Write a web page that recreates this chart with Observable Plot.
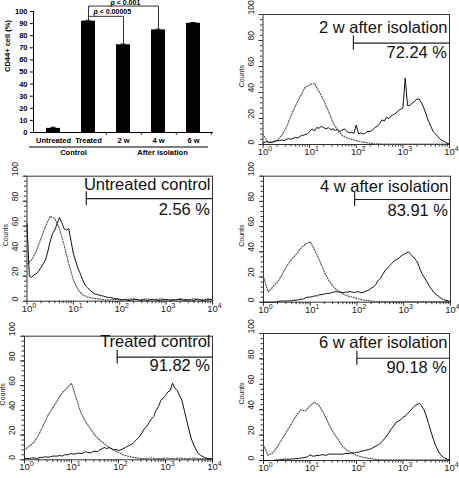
<!DOCTYPE html>
<html>
<head>
<meta charset="utf-8">
<script src="https://cdn.jsdelivr.net/npm/d3@7"></script>
<script src="https://cdn.jsdelivr.net/npm/@observablehq/plot@0.6"></script>
<style>
  html, body { margin: 0; padding: 0; background: #fff; }
  #fig { position: relative; width: 459px; height: 478px; overflow: hidden; }
  #fig > div { position: absolute; }
  #fig svg { display: block; overflow: hidden; }
</style>
</head>
<body>
<div id="fig"></div>
<script>
// ---- CD44+ summary bar chart ----
const categories = ["Untreated", "Treated", "2 w", "4 w", "6 w"];
const cd44Percent = [3.4, 92.0, 72.5, 84.8, 90.3];
const cd44Error = [0.9, 0.7, 0.6, 0.6, 0.6];
const barTicks = [0, 10, 20, 30, 40, 50, 60, 70, 80, 90, 100];
const groupLabels = ["Control", "After isolation"];
const comparisons = [
  { from: "Treated", to: "2 w", level: 96, label: "p < 0.00005" },
  { from: "Treated", to: "4 w", level: 104.5, label: "p < 0.001" }
];

// ---- flow cytometry histograms (counts per log10 channel) ----
// solid traces: log10 fluorescence 0 → 4 in steps of 0.05; dotted isotype traces: steps of 0.1
const solidStep = 0.05;
const dottedStep = 0.1;
const decadeExponents = [0, 1, 2, 3, 4];
const countTicks = [0, 20, 40, 60, 80, 100];

const untreatedSolid = [
  62, 20, 19, 21, 22, 24, 27, 30, 33, 40,
  48, 54, 57, 62, 67, 63, 58, 57, 58, 48,
  38, 32, 26, 22, 17, 13, 11, 9, 7.5, 6,
  5.5, 5, 4.5, 4, 3.5, 3, 3, 2.5, 2, 2,
  1.5, 1, 1.5, 1, 0.5, 1, 1, 1.5, 1, 0.5,
  1, 1, 0.5, 1, 1.5, 1, 1, 0.5, 1, 1,
  1.5, 1, 0.5, 1, 1, 1, 1.5, 1, 0.5, 1,
  1, 1, 0.5, 1.5, 1, 1, 0.5, 1, 1, 1.5,
  1
];
const untreatedIsotype = [
  30, 33, 40, 50, 60, 68, 66, 58, 45, 30,
  17, 9, 5, 3.5, 2.5, 2, 1.5, 1, 1, 1.5,
  1, 1, 1.5, 2, 1, 1.5, 2, 1, 1.5, 2,
  1, 1.5, 1, 2, 1.5, 1, 2, 1.5, 1, 2,
  1
];
const treatedSolid = [
  1, 1, 1, 1.5, 1.5, 1, 1.5, 2, 2, 2.5,
  2, 2.5, 3, 3, 3, 3.5, 3, 4, 4, 4.5,
  5, 4.5, 5, 5.5, 5, 5.5, 6.5, 6, 5.5, 6.5,
  7, 6.5, 8, 9, 10, 9, 10, 9, 8, 8.5,
  7.5, 8, 9, 10, 11, 12, 13, 15, 17, 19,
  22, 25, 27, 30, 33, 35, 40, 43, 48, 50,
  52, 55, 56, 62, 58, 56, 52, 48, 40, 32,
  24, 17, 12, 8, 5, 3.5, 2.5, 1.5, 1, 1,
  0.5
];
const treatedIsotype = [
  8, 11, 14, 20, 28, 36, 42, 48, 54, 58,
  62, 50, 38, 31, 25, 20, 16, 13, 10, 8,
  6, 4, 3, 2, 1.5, 1, 1, 1.5, 1, 1,
  1.5, 1, 1, 1.5, 1, 1, 1.5, 1, 1, 1,
  1
];
const week2Solid = [
  1, 2, 2, 1.5, 2, 2.5, 3, 3, 3.5, 3,
  4, 4.5, 4, 5, 5.5, 5, 6.5, 7, 7.5, 8,
  10, 12, 10.5, 13, 12.5, 14, 13, 12, 13, 11.5,
  12, 11, 11.5, 10, 11, 12, 10, 9, 9.5, 8.5,
  15, 8, 9, 8, 9, 10, 10, 11, 13, 14,
  16, 19, 18, 21, 20, 22, 23, 24, 26, 27,
  28, 51, 30, 30, 32, 33, 35, 35, 32, 28,
  23, 18, 14, 10, 8, 6, 4, 3, 2, 1,
  0.5
];
const week2Isotype = [
  8, 2, 1.5, 3, 7, 13, 22, 30, 37, 44,
  46, 47, 41, 34, 26, 17, 11, 7, 5, 4,
  3, 2, 1.5, 1, 0.5, 0.5, 0.3, 0.3, 0.3, 0.3,
  0.3, 0.3, 0.3, 0.3, 0.3, 0.3, 0.3, 0.3, 0.3, 0.3,
  1
];
const week4Solid = [
  0, 0, 0, 0, 0, 0, 0.5, 0.8, 1, 1,
  1, 1, 1.2, 1.5, 1.5, 2, 2.5, 2.5, 3.5, 4,
  4, 4.5, 5, 5, 6, 6, 6.5, 7, 7, 7.5,
  8, 8.5, 8, 8, 7.5, 8, 8, 8.5, 8, 7.5,
  8.5, 8, 7.5, 8, 9, 9.5, 11, 12, 14, 17,
  19, 22, 25, 27, 29, 31, 33, 34, 35, 37,
  38, 39, 40, 38, 36, 34, 31, 26, 22, 19,
  16, 12.5, 10, 7.5, 6, 4.5, 3, 2, 1.5, 1,
  0.5
];
const week4Isotype = [
  20, 8, 12, 16, 22, 29, 34, 38, 43, 46,
  48, 41, 33, 24, 17, 12, 9, 6.5, 5, 4,
  3, 2, 1.3, 1, 0.5, 0.5, 0.5, 0.5, 0.5, 0.5,
  0.5, 0.5, 0.5, 0.5, 0.5, 0.5, 0.5, 0.5, 0.5, 0.5,
  0.5
];
const week6Solid = [
  0, 0, 0, 0, 0, 0.3, 0.5, 0.5, 1, 1,
  1, 1, 1.2, 1.2, 1.5, 1.5, 2, 2, 2.5, 3,
  4.5, 3.5, 3.5, 4, 4, 4.5, 4.5, 4, 5, 5,
  5, 5, 5, 5, 5, 5.5, 5.5, 5.5, 6, 6,
  6.5, 6.5, 7.5, 7.5, 8, 8.5, 9, 10, 11, 12,
  13, 15, 17, 19.5, 22, 25, 27, 30, 31, 32,
  34, 35, 37, 39, 41, 43, 44, 45, 43, 40,
  35, 29, 23, 17, 12, 8, 5, 3, 2, 1,
  0.5
];
const week6Isotype = [
  12, 4, 6, 11, 17, 23, 29, 35, 40, 39,
  43, 46, 43, 37, 29, 22, 17, 11, 8, 6,
  4, 3, 2, 1.5, 1, 0.5, 0.5, 0.5, 0.5, 0.5,
  0.5, 0.5, 0.5, 0.5, 0.5, 0.5, 0.5, 0.5, 0.5, 0.5,
  0.5
];

const panelTitles = ["2 w after isolation", "Untreated control", "4 w after isolation", "Treated control", "6 w after isolation"];
const positivePercent = [72.24, 2.56, 83.91, 91.82, 90.18];
const gateStart = [87, 19, 89, 94, 102];
const gateCount = [78, 82, 81.5, 83, 80.5];

// ---- page layout (pixels) ----
const font = '"Liberation Sans", Arial, Helvetica, sans-serif';
const panelBoxes = [
  { left: 230, top: 0,   w: 229, h: 165, ml: 32.5, mr: 10, mt: 14,   mb: 21,   titleDy: 18.5, pctDy: 43.5 },
  { left: 0,   top: 160, w: 230, h: 160, ml: 26.5, mr: 18, mt: 15.7, mb: 19.3, titleDy: 13.6, pctDy: 38.6 },
  { left: 230, top: 160, w: 229, h: 160, ml: 33,   mr: 9,  mt: 15.7, mb: 18.3, titleDy: 15.3, pctDy: 39.3 },
  { left: 0,   top: 318, w: 230, h: 160, ml: 24,   mr: 18, mt: 17.7, mb: 18.7, titleDy: 10.3, pctDy: 35 },
  { left: 230, top: 318, w: 229, h: 160, ml: 33,   mr: 10, mt: 15,   mb: 18,   titleDy: 14.3, pctDy: 39.3 }
];
const solidSeries = [week2Solid, untreatedSolid, week4Solid, treatedSolid, week6Solid];
const isotypeSeries = [week2Isotype, untreatedIsotype, week4Isotype, treatedIsotype, week6Isotype];

const fig = document.getElementById("fig");
function place(node, box) {
  const holder = document.createElement("div");
  holder.style.left = box.left + "px";
  holder.style.top = box.top + "px";
  holder.style.width = box.w + "px";
  holder.style.height = box.h + "px";
  holder.appendChild(node);
  fig.appendChild(holder);
}

// ---- bar chart ----
const barRows = categories.map((c, i) => ({ category: c, value: cd44Percent[i], error: cd44Error[i] }));
const topOf = c => { const r = barRows.find(d => d.category === c); return r.value + r.error + 0.4; };
const bracketPaths = comparisons.map(b => [
  { category: b.from, y: topOf(b.from) },
  { category: b.from, y: b.level },
  { category: b.to, y: b.level },
  { category: b.to, y: topOf(b.to) }
]);

const bar = Plot.plot({
  width: 230, height: 160,
  marginLeft: 33, marginRight: 17, marginTop: 11, marginBottom: 28,
  x: { domain: categories, paddingInner: 0.6, paddingOuter: 0.33 },
  y: { domain: [0, 100] },
  style: { fontFamily: font, fontWeight: "bold", fontSize: "7.5px", color: "#000", background: "none" },
  marks: [
    Plot.barY(barRows, { x: "category", y: "value", fill: "#000" }),
    Plot.ruleX(barRows, { x: "category", y1: "value", y2: d => d.value + d.error, stroke: "#000" }),
    Plot.tickY(barRows, { x: "category", y: d => d.value + d.error, insetLeft: 4.5, insetRight: 4.5, stroke: "#000" }),
    Plot.axisY({ ticks: barTicks, tickSize: 3, tickPadding: 3, label: null, stroke: "#000" }),
    Plot.axisX({ tickSize: 0, tickPadding: 5, label: null }),
    Plot.frame({ anchor: "left", stroke: "#000" }),
    Plot.ruleY([0], { stroke: "#000" }),
    Plot.ruleX(categories.slice(1), { x: d => d, y1: 0, y2: -2.2, dx: 17.8, stroke: "#000" }),
    Plot.ruleY([0], { x1: () => categories[0], x2: () => categories[1], dy: 14.5, insetLeft: -17, insetRight: -14, stroke: "#000" }),
    Plot.ruleY([0], { x1: () => categories[2], x2: () => categories[4], dy: 14.5, insetLeft: -7, insetRight: -8, stroke: "#000" }),
    Plot.text([groupLabels[0]], { x: () => categories[0], text: d => d, frameAnchor: "bottom", dy: 22, dx: 20 }),
    Plot.text([groupLabels[1]], { x: () => categories[3], text: d => d, frameAnchor: "bottom", dy: 22, dx: 4 }),
    Plot.text(["CD44+ cell (%)"], { text: d => d, frameAnchor: "left", y: 50, dx: -26, rotate: -90 }),
    ...bracketPaths.map(p => Plot.line(p, { x: "category", y: "y", stroke: "#333", strokeWidth: 1 })),
    Plot.text([comparisons[0]], { x: "from", y: d => d.level + 3.7, text: "label", dx: 5, textAnchor: "start", fontSize: 7 }),
    Plot.text([comparisons[1]], { x: "from", y: d => d.level + 2.8, text: "label", dx: 22, textAnchor: "start", fontSize: 7 })
  ]
});
// italic p in the significance labels
d3.select(bar).selectAll("text").filter(function () { return this.textContent.startsWith("p <"); })
  .each(function () {
    const rest = this.textContent.slice(1);
    const t = d3.select(this);
    t.text(null);
    t.append("tspan").attr("font-style", "italic").text("p");
    t.append("tspan").text(rest);
  });
place(bar, { left: 0, top: 0, w: 230, h: 160 });

// ---- histograms ----
function histogram(k) {
  const box = panelBoxes[k];
  const solid = solidSeries[k].map((c, i) => ({ x: 10 ** (i * solidStep), y: c }));
  const isotype = isotypeSeries[k].map((c, i) => ({ x: 10 ** (i * dottedStep), y: c }));
  const decades = decadeExponents.map(e => 10 ** e);
  const minor = decades.slice(0, 4).flatMap(d => [2, 3, 4, 5, 6, 7, 8, 9].map(m => m * d));
  const countMinor = d3.range(0, 101, 4);
  return Plot.plot({
    width: box.w, height: box.h,
    marginLeft: box.ml, marginRight: box.mr, marginTop: box.mt, marginBottom: box.mb,
    x: { type: "log", domain: [1, 10000] },
    y: { domain: [0, 100] },
    style: { fontFamily: font, fontSize: "9px", color: "#222", background: "none" },
    marks: [
      Plot.axisX({ ticks: minor, tickSize: 2.5, tickFormat: () => "", label: null, stroke: "#333" }),
      Plot.axisX({ ticks: decades, tickSize: 4, tickFormat: () => "", label: null, stroke: "#333" }),
      Plot.text(decadeExponents, { x: e => 10 ** e, text: () => "10", frameAnchor: "bottom", dy: 10.5, fontSize: 9.5 }),
      Plot.text(decadeExponents, { x: e => 10 ** e, text: e => String(e), frameAnchor: "bottom", dy: 6.5, dx: 5.3, textAnchor: "start", fontSize: 7 }),
      Plot.axisY({ ticks: countMinor, tickSize: 2.5, tickFormat: () => "", label: null, stroke: "#333" }),
      Plot.axisY({ ticks: countTicks, tickSize: 4, tickFormat: () => "", label: null, stroke: "#333" }),
      Plot.text(countTicks, { y: d => d, text: d => String(d), frameAnchor: "left", dx: -12, rotate: -90, fontSize: 8.5 }),
      Plot.text(["Counts"], { text: d => d, frameAnchor: "left", y: 44, dx: -21.5, rotate: -90, fontSize: 7 }),
      Plot.frame({ stroke: "#333" }),
      Plot.line(isotype, { x: "x", y: "y", stroke: "#555", strokeWidth: 1.2, strokeDasharray: "1,1.6" }),
      Plot.line(solid, { x: "x", y: "y", stroke: "#111", strokeWidth: 1 }),
      Plot.ruleY([gateCount[k]], { x1: gateStart[k], x2: 10000, stroke: "#222", strokeWidth: 1.2 }),
      Plot.ruleX([gateStart[k]], { y1: gateCount[k] - 5.5, y2: gateCount[k] + 5.5, stroke: "#222", strokeWidth: 1.2 }),
      Plot.text([panelTitles[k]], { text: d => d, frameAnchor: "top-right", textAnchor: "end", lineAnchor: "bottom", dx: -2, dy: box.titleDy, fontSize: 16.5, fill: "#111" }),
      Plot.text([positivePercent[k]], { text: d => d.toFixed(2) + " %", frameAnchor: "top-right", textAnchor: "end", lineAnchor: "bottom", dx: -2.5, dy: box.pctDy, fontSize: 16.5, fill: "#111" })
    ]
  });
}
panelBoxes.forEach((box, k) => place(histogram(k), box));
</script>
</body>
</html>
